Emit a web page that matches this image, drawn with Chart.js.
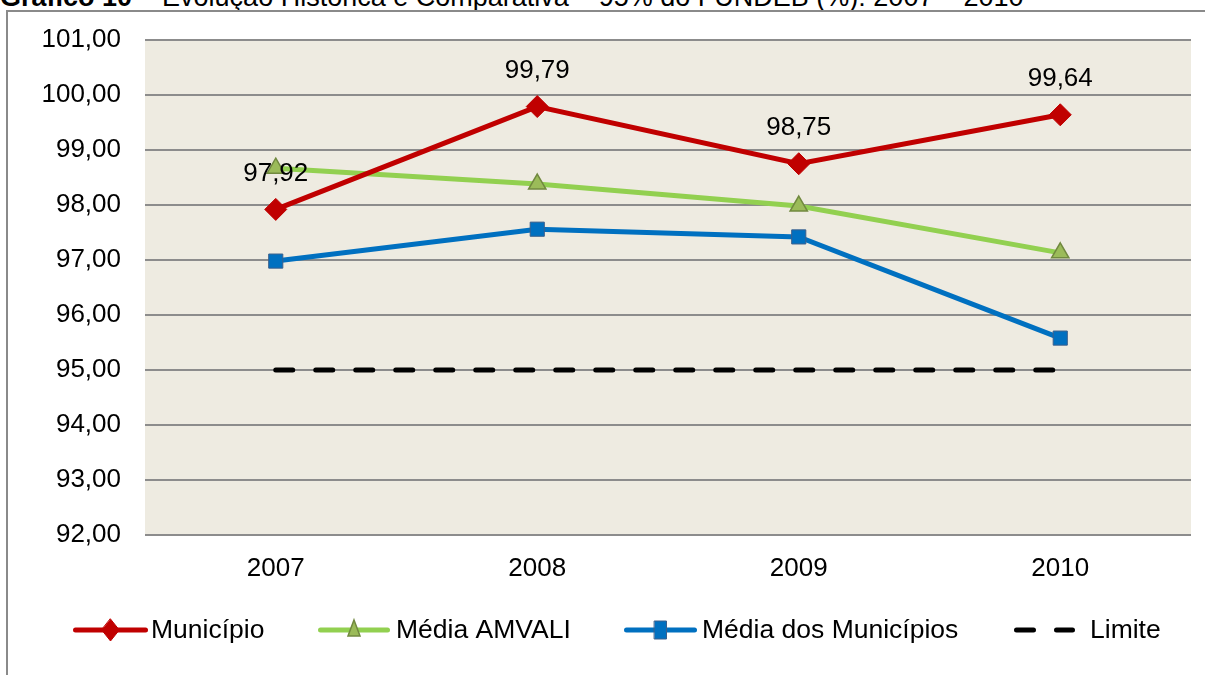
<!DOCTYPE html>
<html>
<head>
<meta charset="utf-8">
<script src="https://cdn.jsdelivr.net/npm/chart.js@4/dist/chart.umd.min.js"></script>
<style>
  html, body { margin: 0; padding: 0; background: #fff; width: 1205px; height: 675px; overflow: hidden; }
  #frame { position: absolute; left: 6px; top: 10px; width: 1205px; height: 700px; border: 2px solid #8a8a8a; box-sizing: border-box; }
  #title { position: absolute; left: 0; top: -18px; font-family: "Liberation Sans", Arial, sans-serif; font-size: 27px; color: #000; white-space: nowrap; }
  #c { position: absolute; left: 0; top: 0; }
</style>
</head>
<body>
<div id="title"><b>Gráfico 10</b> – Evolução Histórica e Comparativa – 95% do FUNDEB (%): 2007 – 2010</div>
<div id="frame"></div>
<canvas id="c" width="1205" height="675"></canvas>
<script>
const categories = ['2007', '2008', '2009', '2010'];
const municipio = [97.92, 99.79, 98.75, 99.64];
const mediaAmvali = [98.67, 98.38, 97.98, 97.13];
const mediaMunicipios = [96.98, 97.56, 97.42, 95.58];
const limite = [95, 95, 95, 95];
const seriesNames = ['Município', 'Média AMVALI', 'Média dos Municípios', 'Limite'];

const FONT = '"Liberation Sans", Arial, sans-serif';
const fmt = v => v.toFixed(2).replace('.', ',');

const bgPlugin = {
  id: 'bg',
  beforeDraw(chart) {
    const a = chart.chartArea, ctx = chart.ctx;
    ctx.save();
    ctx.fillStyle = '#eeebe1';
    ctx.fillRect(a.left, a.top, a.right - a.left, a.bottom - a.top);
    ctx.restore();
  }
};

const labelPlugin = {
  id: 'vlabels',
  afterDatasetsDraw(chart) {
    const ctx = chart.ctx;
    const meta = chart.getDatasetMeta(0);
    ctx.save();
    ctx.font = '26px ' + FONT;
    ctx.fillStyle = '#000';
    ctx.textAlign = 'center';
    ctx.textBaseline = 'middle';
    meta.data.forEach((pt, i) => {
      ctx.fillText(fmt(chart.data.datasets[0].data[i]), pt.x, pt.y - 36);
    });
    ctx.restore();
  }
};

const legendPlugin = {
  id: 'customLegend',
  afterDraw(chart) {
    const ctx = chart.ctx;
    const y = 630;
    const items = [
      { lineX: 73, lineW: 75, textX: 151 },
      { lineX: 318, lineW: 72, textX: 396 },
      { lineX: 624, lineW: 73, textX: 702 },
      { lineX: 1014, lineW: 61, textX: 1090 }
    ];
    ctx.save();
    chart.data.datasets.forEach((ds, i) => {
      const it = items[i];
      ctx.strokeStyle = ds.borderColor;
      ctx.lineWidth = ds.borderWidth;
      ctx.lineCap = 'round';
      ctx.setLineDash(ds.borderDash ? [17, 23] : []);
      ctx.beginPath();
      ctx.moveTo(it.lineX + 2.5, y);
      ctx.lineTo(it.lineX + it.lineW - 2.5, y);
      ctx.stroke();
      ctx.setLineDash([]);
      if (ds.pointRadius > 0) {
        ctx.fillStyle = ds.pointBackgroundColor;
        ctx.strokeStyle = ds.pointBorderColor;
        ctx.lineWidth = ds.pointBorderWidth;
        ctx.beginPath();
        const cx = it.lineX + it.lineW / 2, r = ds.pointRadius;
        if (ds.pointStyle === 'rectRot') {
          ctx.moveTo(cx, y - r); ctx.lineTo(cx + r * 0.8, y); ctx.lineTo(cx, y + r); ctx.lineTo(cx - r * 0.8, y); ctx.closePath();
        } else if (ds.pointStyle === 'triangle') {
          ctx.moveTo(cx, y - r); ctx.lineTo(cx + r * 0.6, y + r * 0.6); ctx.lineTo(cx - r * 0.6, y + r * 0.6); ctx.closePath();
        } else {
          ctx.rect(cx - 6, y - 9, 12, 18);
        }
        ctx.fill();
        ctx.stroke();
      }
      ctx.fillStyle = '#000';
      ctx.font = '26.5px ' + FONT;
      ctx.textAlign = 'left';
      ctx.textBaseline = 'middle';
      ctx.fillText(seriesNames[i], it.textX, y + 1);
    });
    ctx.restore();
  }
};

new Chart(document.getElementById('c'), {
  type: 'line',
  data: {
    labels: categories,
    datasets: [
      {
        label: seriesNames[0], data: municipio,
        borderColor: '#c00000', borderWidth: 5,
        pointStyle: 'rectRot', pointRadius: 11, pointBorderWidth: 1,
        pointBackgroundColor: '#c00000', pointBorderColor: '#c00000',
        tension: 0, order: 1
      },
      {
        label: seriesNames[1], data: mediaAmvali,
        borderColor: '#92d050', borderWidth: 5,
        pointStyle: 'triangle', pointRadius: 10, pointBorderWidth: 1.5,
        pointBackgroundColor: '#9bbb59', pointBorderColor: '#71893f',
        tension: 0, order: 3
      },
      {
        label: seriesNames[2], data: mediaMunicipios,
        borderColor: '#0070c0', borderWidth: 5,
        pointStyle: 'rect', pointRadius: 10, pointBorderWidth: 1,
        pointBackgroundColor: '#0070c0', pointBorderColor: '#3a5f8c',
        tension: 0, order: 2
      },
      {
        label: seriesNames[3], data: limite,
        borderColor: '#000000', borderWidth: 5, borderDash: [17, 23], borderCapStyle: 'round',
        pointRadius: 0, pointBorderWidth: 0,
        tension: 0, order: 4
      }
    ]
  },
  options: {
    responsive: false,
    animation: false,
    events: [],
    layout: { padding: { left: 0, right: 14, top: 40, bottom: 0 } },
    plugins: { legend: { display: false }, tooltip: { enabled: false } },
    scales: {
      x: {
        type: 'category',
        offset: true,
        grid: { display: false, drawTicks: false },
        border: { display: false },
        ticks: { color: '#000', font: { family: FONT, size: 26 }, padding: 18, maxRotation: 0 },
        afterFit(s) { s.height = 140; }
      },
      y: {
        min: 92, max: 101,
        grid: { color: '#8c8c8c', lineWidth: 2, drawTicks: false },
        border: { display: false },
        ticks: { stepSize: 1, color: '#000', font: { family: FONT, size: 26 }, padding: 24,
                 callback: v => fmt(v) },
        afterFit(s) { s.width = 145; }
      }
    }
  },
  plugins: [bgPlugin, labelPlugin, legendPlugin]
});
</script>
</body>
</html>
